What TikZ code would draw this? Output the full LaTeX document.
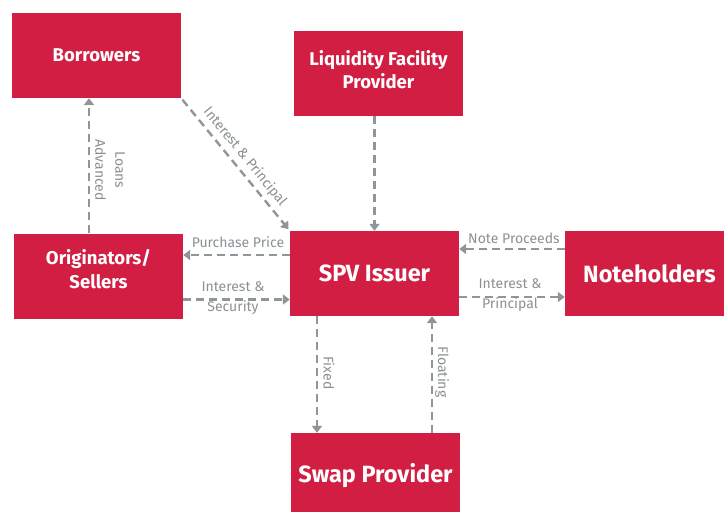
\documentclass[tikz,border=0pt]{standalone}
\usepackage{fontspec}
\setmainfont{Fira Sans}
\usetikzlibrary{arrows.meta}
\definecolor{boxred}{HTML}{D11E42}
\definecolor{flowgrey}{HTML}{8F969A}
\definecolor{labelgrey}{HTML}{8A9094}
\tikzset{
  party/.style={fill=boxred, text=white, font=\bfseries\fontsize{18.5}{23}\selectfont,
    minimum width=169pt, minimum height=85pt, inner sep=0pt, align=center},
  partytext/.style={text=white, font=\bfseries\fontsize{18.5}{23.5}\selectfont,
    inner sep=0pt, align=center},
  bigparty/.style={party, font=\bfseries\fontsize{23.5}{28}\selectfont},
  flow/.style={draw=flowgrey, line width=2.4pt, dash pattern=on 8pt off 5pt,
    -{Triangle[width=10pt,length=7pt]}},
  flowlabel/.style={text=labelgrey, font=\fontsize{14}{20}\selectfont, inner sep=0pt, align=center}
}
\begin{document}
\begin{tikzpicture}[x=1pt,y=-1pt]
  \useasboundingbox (0,0) rectangle (724,512);

  % parties
  \node[party] (bor) at (96.5,55.5) {Borrowers};
  \node[party] (lfp) at (378.5,73.5) {};
  \node[partytext] (lfptext) at ([yshift=4pt]lfp.center) {Liquidity Facility\\Provider};
  \node[party] (ori) at (98.5,276) {};
  \node[partytext] (oritext) at ([yshift=7pt]ori.center) {Originators/\\Sellers};
  \node[bigparty] (spv) at (374.5,273.5) {SPV Issuer};
  \node[bigparty] (note) at (649.5,273.5) {Noteholders};
  \node[bigparty] (swap) at (375.5,475.5) {Swap Provider};

  % loans to borrowers
  \draw[flow] ([xshift=-9.5pt]ori.north) -- ([xshift=-9.5pt]ori.north |- bor.south);
  \node[flowlabel, rotate=-90] (loanlbl) at (110,170) {Loans\\Advanced};

  % repayments from borrowers
  \draw[flow, shorten <=2pt, shorten >=2pt] (bor.south east) -- (spv.north west)
    node[flowlabel, pos=0.5, sloped, anchor=south, inner sep=4pt] (iplbl) {Interest \& Principal};

  % liquidity facility
  \draw[flow] (lfp.south -| spv.north) -- (spv.north);

  % purchase price and security
  \draw[flow] ([yshift=18.5pt]spv.west) -- ([yshift=18.5pt]spv.west -| ori.east);
  \node[flowlabel] (pplbl) at (238,242) {Purchase Price};
  \draw[flow] ([yshift=-26pt]spv.west -| ori.east) -- ([yshift=-26pt]spv.west);
  \node[flowlabel] (islbl) at (233,298) {Interest \&\\Security};

  % noteholders
  \draw[flow] ([yshift=24.5pt]note.west) -- ([yshift=24.5pt]note.west -| spv.east);
  \node[flowlabel] (nplbl) at (514,238) {Note Proceeds};
  \draw[flow] ([yshift=-23.5pt]spv.east) -- ([yshift=-23.5pt]spv.east -| note.west);
  \node[flowlabel] (nilbl) at (510,295) {Interest \&\\Principal};

  % swap legs
  \draw[flow] ([xshift=-57.5pt]spv.south) -- ([xshift=-57.5pt]spv.south |- swap.north);
  \node[flowlabel, rotate=-90] (fixlbl) at (329,373) {Fixed};
  \draw[flow] ([xshift=57.5pt]spv.south |- swap.north) -- ([xshift=57.5pt]spv.south);
  \node[flowlabel, rotate=-90] (fltlbl) at (442,372) {Floating};
\end{tikzpicture}
\end{document}
